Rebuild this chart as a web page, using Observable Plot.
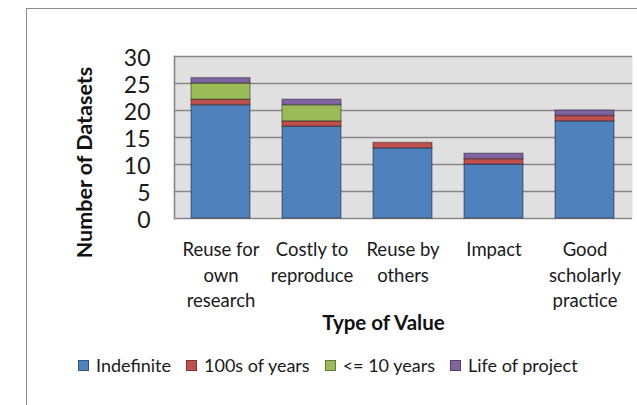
<!DOCTYPE html>
<html><head><meta charset="utf-8">
<script src="https://cdn.jsdelivr.net/npm/d3@7"></script>
<script src="https://cdn.jsdelivr.net/npm/@observablehq/plot@0.6"></script>
<style>
html,body{margin:0;padding:0;background:#fff;}
#wrap{position:relative;width:637px;height:405px;overflow:hidden;font-family:Lato,sans-serif;}
#border{position:absolute;left:26px;top:8px;width:800px;height:600px;border-left:1.5px solid #8c8c8c;border-top:1.5px solid #8c8c8c;box-sizing:border-box;}
#chart{position:absolute;left:0;top:0;}
#legend{position:absolute;top:354px;left:78px;display:flex;align-items:center;font-size:18px;color:#1a1a1a;white-space:nowrap;}
.item{display:flex;align-items:center;margin-right:15px;}
.sw{width:9px;height:9px;border:1px solid rgba(0,0,0,0.35);margin-right:7px;}
</style>
</head><body>
<div id="wrap"><div id="border"></div><div id="chart"></div><div id="legend"></div></div>
<script>
const categories = ["Reuse for own research", "Costly to reproduce", "Reuse by others", "Impact", "Good scholarly practice"];
const tickLabels = ["Reuse for\nown\nresearch", "Costly to\nreproduce", "Reuse by\nothers", "Impact", "Good\nscholarly\npractice"];
const seriesNames = ["Indefinite", "100s of years", "<= 10 years", "Life of project"];
const seriesColors = ["#4F81BD", "#C0504D", "#9BBB59", "#8064A2"];
const indefinite = [21, 17, 13, 10, 18];
const hundredsOfYears = [1, 1, 1, 1, 1];
const tenYearsOrLess = [3, 3, 0, 0, 0];
const lifeOfProject = [1, 1, 0, 1, 1];
const yTicks = [0, 5, 10, 15, 20, 25, 30];

const seriesValues = [indefinite, hundredsOfYears, tenYearsOrLess, lifeOfProject];
const rows = [];
seriesNames.forEach((s, i) => categories.forEach((c, j) => {
  if (seriesValues[i][j] > 0) rows.push({category: c, series: s, value: seriesValues[i][j]});
}));
const labelOf = new Map(categories.map((c, i) => [c, tickLabels[i]]));

const chart = Plot.plot({
  width: 637, height: 405,
  marginLeft: 174, marginRight: 5, marginTop: 56, marginBottom: 187,
  style: {fontFamily: "Lato, sans-serif", background: "transparent", color: "#1a1a1a"},
  x: {domain: categories, paddingInner: 0.35, paddingOuter: 0.175, label: null},
  y: {domain: [0, 30], label: null},
  color: {domain: seriesNames, range: seriesColors},
  marks: [
    Plot.frame({fill: "#e0e0e0", stroke: null}),
    Plot.ruleY(yTicks, {stroke: "#888", strokeWidth: 1.6}),
    Plot.frame({anchor: "left", stroke: "#888", strokeWidth: 1.6}),
    Plot.barY(rows, {x: "category", y: "value", fill: "series", order: seriesNames,
      stroke: "#000", strokeOpacity: 0.3, strokeWidth: 1.5}),
    Plot.axisY({ticks: yTicks, tickSize: 0, tickPadding: 24, fontSize: 23, dy: 2, label: null}),
    Plot.axisX({tickSize: 0, tickPadding: 20, fontSize: 18.5, lineHeight: 1.36,
      tickFormat: d => labelOf.get(d), label: null}),
    Plot.text(["Number of Datasets"], {frameAnchor: "left", textAnchor: "middle", lineAnchor: "middle",
      rotate: -90, dx: -89, dy: 25, fontWeight: "bold", fontSize: 21.5, fill: "#111"}),
    Plot.text(["Type of Value"], {frameAnchor: "bottom", textAnchor: "middle", lineAnchor: "middle",
      dx: -20, dy: 105, fontWeight: "bold", fontSize: 20.5, fill: "#111"})
  ]
});
document.getElementById("chart").appendChild(chart);

const legend = document.getElementById("legend");
seriesNames.forEach((s, i) => {
  const it = document.createElement("div");
  it.className = "item";
  const sw = document.createElement("div");
  sw.className = "sw";
  sw.style.background = seriesColors[i];
  const t = document.createElement("span");
  t.textContent = s;
  it.appendChild(sw); it.appendChild(t);
  legend.appendChild(it);
});
</script>
</body></html>
